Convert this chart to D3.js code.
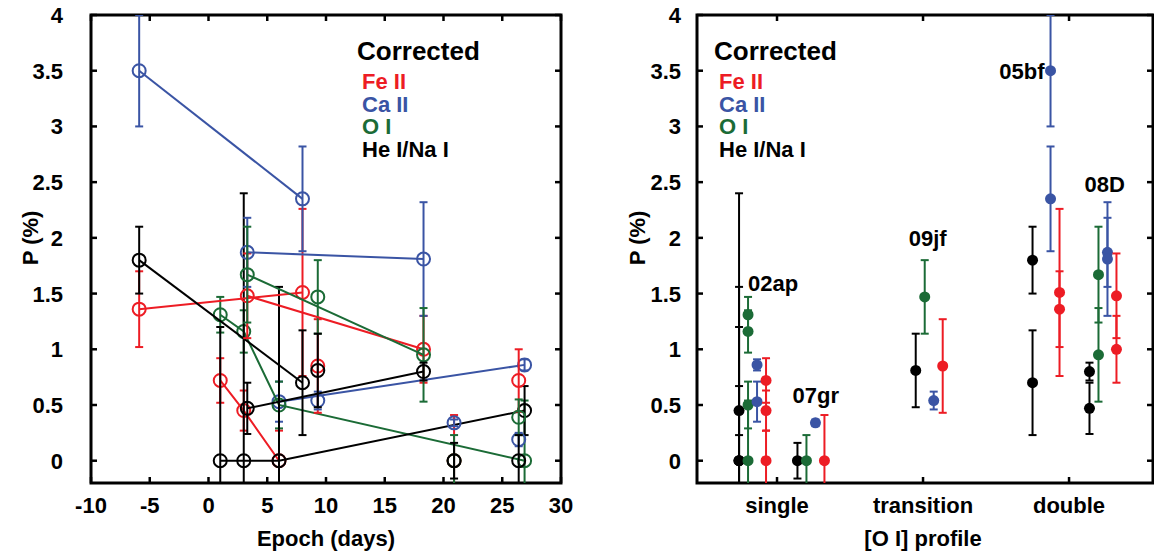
<!DOCTYPE html>
<html>
<head>
<meta charset="utf-8">
<script src="https://d3js.org/d3.v7.min.js"></script>
<style>
body { margin: 0; background: #fff; }
text { font-family: "Liberation Sans", Arial, Helvetica, sans-serif; font-weight: bold; }
</style>
</head>
<body>
<svg width="1154" height="552"></svg>
<script>
// species, in the order they are stacked in the right panel
const species = ["He I/Na I", "O I", "Ca II", "Fe II"];
const speciesColor = ["#000000", "#1b6b36", "#3a54a4", "#ed1c24"];
const legendOrder = ["Fe II", "Ca II", "O I", "He I/Na I"];

// [epoch (days), P (%), error]
const he02ap = [[1.0, 0, 1.2], [3.0, 0, 2.4], [6.0, 0, 1.56], [26.9, 0.45, 0.22]];
const oi02ap = [[1.0, 1.31, 0.16], [3.0, 1.16, 0.19], [6.0, 0.50, 0.21], [26.9, 0, 0.54]];
const ca02ap = [[6.0, 0.53, 0.18], [26.9, 0.86, 0.05]];
const fe02ap = [[1.0, 0.72, 0.20], [3.0, 0.45, 0.18], [6.0, 0, 0.27]];

const he07gr = [[20.9, 0, 0.16]];
const oi07gr = [[20.9, 0, 0.23]];
const ca07gr = [[20.9, 0.34, 0.03]];
const fe07gr = [[20.9, 0, 0.41]];

const he09jf = [[9.3, 0.81, 0.33]];
const oi09jf = [[9.3, 1.47, 0.33]];
const ca09jf = [[9.3, 0.54, 0.08]];
const fe09jf = [[9.3, 0.85, 0.42]];

const he05bf = [[-5.9, 1.80, 0.30], [8.0, 0.70, 0.47]];
const oi05bf = [];
const ca05bf = [[-5.9, 3.50, 0.50], [8.0, 2.35, 0.47]];
const fe05bf = [[-5.9, 1.36, 0.34], [8.0, 1.51, 0.75]];

const he08D = [[3.3, 0.47, 0.23], [18.3, 0.80, 0.08]];
const oi08D = [[3.3, 1.67, 0.43], [18.3, 0.95, 0.42]];
const ca08D = [[3.3, 1.87, 0.31], [18.3, 1.81, 0.51]];
const fe08D = [[3.3, 1.48, 0.38], [18.3, 1.00, 0.30]];

// one more object, left panel only
const heOther = [[26.4, 0, 0.23]];
const oiOther = [[26.4, 0.39, 0.16]];
const caOther = [[26.4, 0.19, 0.06]];
const feOther = [[26.4, 0.72, 0.28]];

const snNames = ["02ap", "07gr", "09jf", "05bf", "08D"];
const snProfile = ["single", "single", "transition", "double", "double"];
const snShift = [-0.26, 0.14, -0.05, -0.25, 0.14];
const snSeries = [
  [he02ap, oi02ap, ca02ap, fe02ap],
  [he07gr, oi07gr, ca07gr, fe07gr],
  [he09jf, oi09jf, ca09jf, fe09jf],
  [he05bf, oi05bf, ca05bf, fe05bf],
  [he08D, oi08D, ca08D, fe08D]
];
const otherSeries = [heOther, oiOther, caOther, feOther];

const profiles = ["single", "transition", "double"];
const epochTicks = [-10, -5, 0, 5, 10, 15, 20, 25, 30];
const pTicks = [0, 0.5, 1, 1.5, 2, 2.5, 3, 3.5, 4];

const svg = d3.select("svg");

const x1 = d3.scaleLinear().domain([-10, 30]).range([91, 561]);
const y = d3.scaleLinear().domain([-0.2, 4]).range([483, 15]);
const x2 = d3.scaleLinear().domain([0.452, 3.575]).range([697, 1153]);
const step = 0.0616;

function frame(xl, xr, labelX, titleX) {
  const g = svg.append("g");
  // y ticks inward, both sides
  pTicks.forEach(function(t) {
    g.append("line").attr("x1", xl).attr("x2", xl + 6).attr("y1", y(t)).attr("y2", y(t))
      .attr("stroke", "#000").attr("stroke-width", 2.5);
    g.append("line").attr("x1", xr).attr("x2", xr - 6).attr("y1", y(t)).attr("y2", y(t))
      .attr("stroke", "#000").attr("stroke-width", 2.5);
    g.append("text").attr("x", labelX).attr("y", y(t) + 8).attr("text-anchor", "end")
      .style("font-size", "22px").text(d3.format("~g")(t));
  });
  g.append("rect").attr("x", xl).attr("y", 15).attr("width", xr - xl).attr("height", 468)
    .attr("fill", "none").attr("stroke", "#000").attr("stroke-width", 3);
  g.append("text").attr("transform", "translate(" + titleX + "," + y(2) + ") rotate(-90)")
    .attr("text-anchor", "middle").style("font-size", "22px").text("P (%)");
  return g;
}

function legend(lx) {
  svg.append("text").attr("x", lx).attr("y", 60).style("font-size", "26px").text("Corrected");
  legendOrder.forEach(function(s, i) {
    svg.append("text").attr("x", lx + 5).attr("y", 89 + i * 22.7)
      .style("font-size", "22px")
      .attr("fill", speciesColor[species.indexOf(s)])
      .text(s);
  });
}

// ---------- left panel ----------
const gl = frame(91, 561, 63, 38);
epochTicks.forEach(function(t) {
  gl.append("line").attr("x1", x1(t)).attr("x2", x1(t)).attr("y1", 483).attr("y2", 477)
    .attr("stroke", "#000").attr("stroke-width", 2.5);
  gl.append("line").attr("x1", x1(t)).attr("x2", x1(t)).attr("y1", 15).attr("y2", 21)
    .attr("stroke", "#000").attr("stroke-width", 2.5);
  gl.append("text").attr("x", x1(t)).attr("y", 513).attr("text-anchor", "middle")
    .style("font-size", "22px").text(t);
});
gl.append("text").attr("x", 326).attr("y", 546).attr("text-anchor", "middle")
  .style("font-size", "22px").text("Epoch (days)");

svg.append("clipPath").attr("id", "clipL").append("rect")
  .attr("x", 91).attr("y", 15).attr("width", 470).attr("height", 468);
svg.append("clipPath").attr("id", "clipR").append("rect")
  .attr("x", 697).attr("y", 15).attr("width", 456).attr("height", 468);

const plotL = svg.append("g").attr("clip-path", "url(#clipL)");
const allLeft = snSeries.concat([otherSeries]);
// Fe II first, He I/Na I last (on top)
const drawOrder = [3, 2, 1, 0];
allLeft.forEach(function(sn) {
  drawOrder.forEach(function(k) {
    const ser = sn[k];
    const col = speciesColor[k];
    if (ser.length > 1) {
      plotL.append("path").datum(ser)
        .attr("d", d3.line().x(d => x1(d[0])).y(d => y(d[1])))
        .attr("fill", "none").attr("stroke", col).attr("stroke-width", 2);
    }
    ser.forEach(function(d) {
      const cx = x1(d[0]);
      plotL.append("line").attr("x1", cx).attr("x2", cx)
        .attr("y1", y(d[1] - d[2])).attr("y2", y(d[1] + d[2]))
        .attr("stroke", col).attr("stroke-width", 2);
      [d[1] - d[2], d[1] + d[2]].forEach(function(v) {
        plotL.append("line").attr("x1", cx - 4).attr("x2", cx + 4)
          .attr("y1", y(v)).attr("y2", y(v)).attr("stroke", col).attr("stroke-width", 2);
      });
      plotL.append("circle").attr("cx", cx).attr("cy", y(d[1])).attr("r", 6.5)
        .attr("fill", "none").attr("stroke", col).attr("stroke-width", 2);
    });
  });
});
legend(357);

// ---------- right panel ----------
const gr = frame(697, 1153, 681, 645);
profiles.forEach(function(p, i) {
  gr.append("line").attr("x1", x2(i + 1)).attr("x2", x2(i + 1)).attr("y1", 483).attr("y2", 477)
    .attr("stroke", "#000").attr("stroke-width", 2.5);
  gr.append("line").attr("x1", x2(i + 1)).attr("x2", x2(i + 1)).attr("y1", 15).attr("y2", 21)
    .attr("stroke", "#000").attr("stroke-width", 2.5);
  gr.append("text").attr("x", x2(i + 1)).attr("y", 513).attr("text-anchor", "middle")
    .style("font-size", "22px").text(p);
});
gr.append("text").attr("x", x2(2)).attr("y", 546).attr("text-anchor", "middle")
  .style("font-size", "22px").text("[O I] profile");

const plotR = svg.append("g").attr("clip-path", "url(#clipR)");
snSeries.forEach(function(sn, j) {
  const base = profiles.indexOf(snProfile[j]) + 1 + snShift[j];
  sn.forEach(function(ser, k) {
    const col = speciesColor[k];
    const cx = x2(base + k * step);
    ser.forEach(function(d) {
      plotR.append("line").attr("x1", cx).attr("x2", cx)
        .attr("y1", y(d[1] - d[2])).attr("y2", y(d[1] + d[2]))
        .attr("stroke", col).attr("stroke-width", 2);
      [d[1] - d[2], d[1] + d[2]].forEach(function(v) {
        plotR.append("line").attr("x1", cx - 4).attr("x2", cx + 4)
          .attr("y1", y(v)).attr("y2", y(v)).attr("stroke", col).attr("stroke-width", 2);
      });
    });
    ser.forEach(function(d) {
      plotR.append("circle").attr("cx", cx).attr("cy", y(d[1])).attr("r", 5.5).attr("fill", col);
    });
  });
});
legend(714);

// object labels: [shift from the object's first column, P level, anchor]
const labelAt = {"02ap": [0.062, 1.52, "start"], "07gr": [-0.034, 0.52, "start"],
  "09jf": [-0.048, 1.93, "start"], "05bf": [0.082, 3.5, "end"], "08D": [-0.034, 2.41, "start"]};
snNames.forEach(function(n, j) {
  const base = profiles.indexOf(snProfile[j]) + 1 + snShift[j];
  const a = labelAt[n];
  svg.append("text").attr("x", x2(base + a[0])).attr("y", y(a[1]))
    .attr("text-anchor", a[2]).attr("dy", a[2] === "end" ? 8 : 0)
    .style("font-size", "22px").text(n);
});
</script>
</body>
</html>
